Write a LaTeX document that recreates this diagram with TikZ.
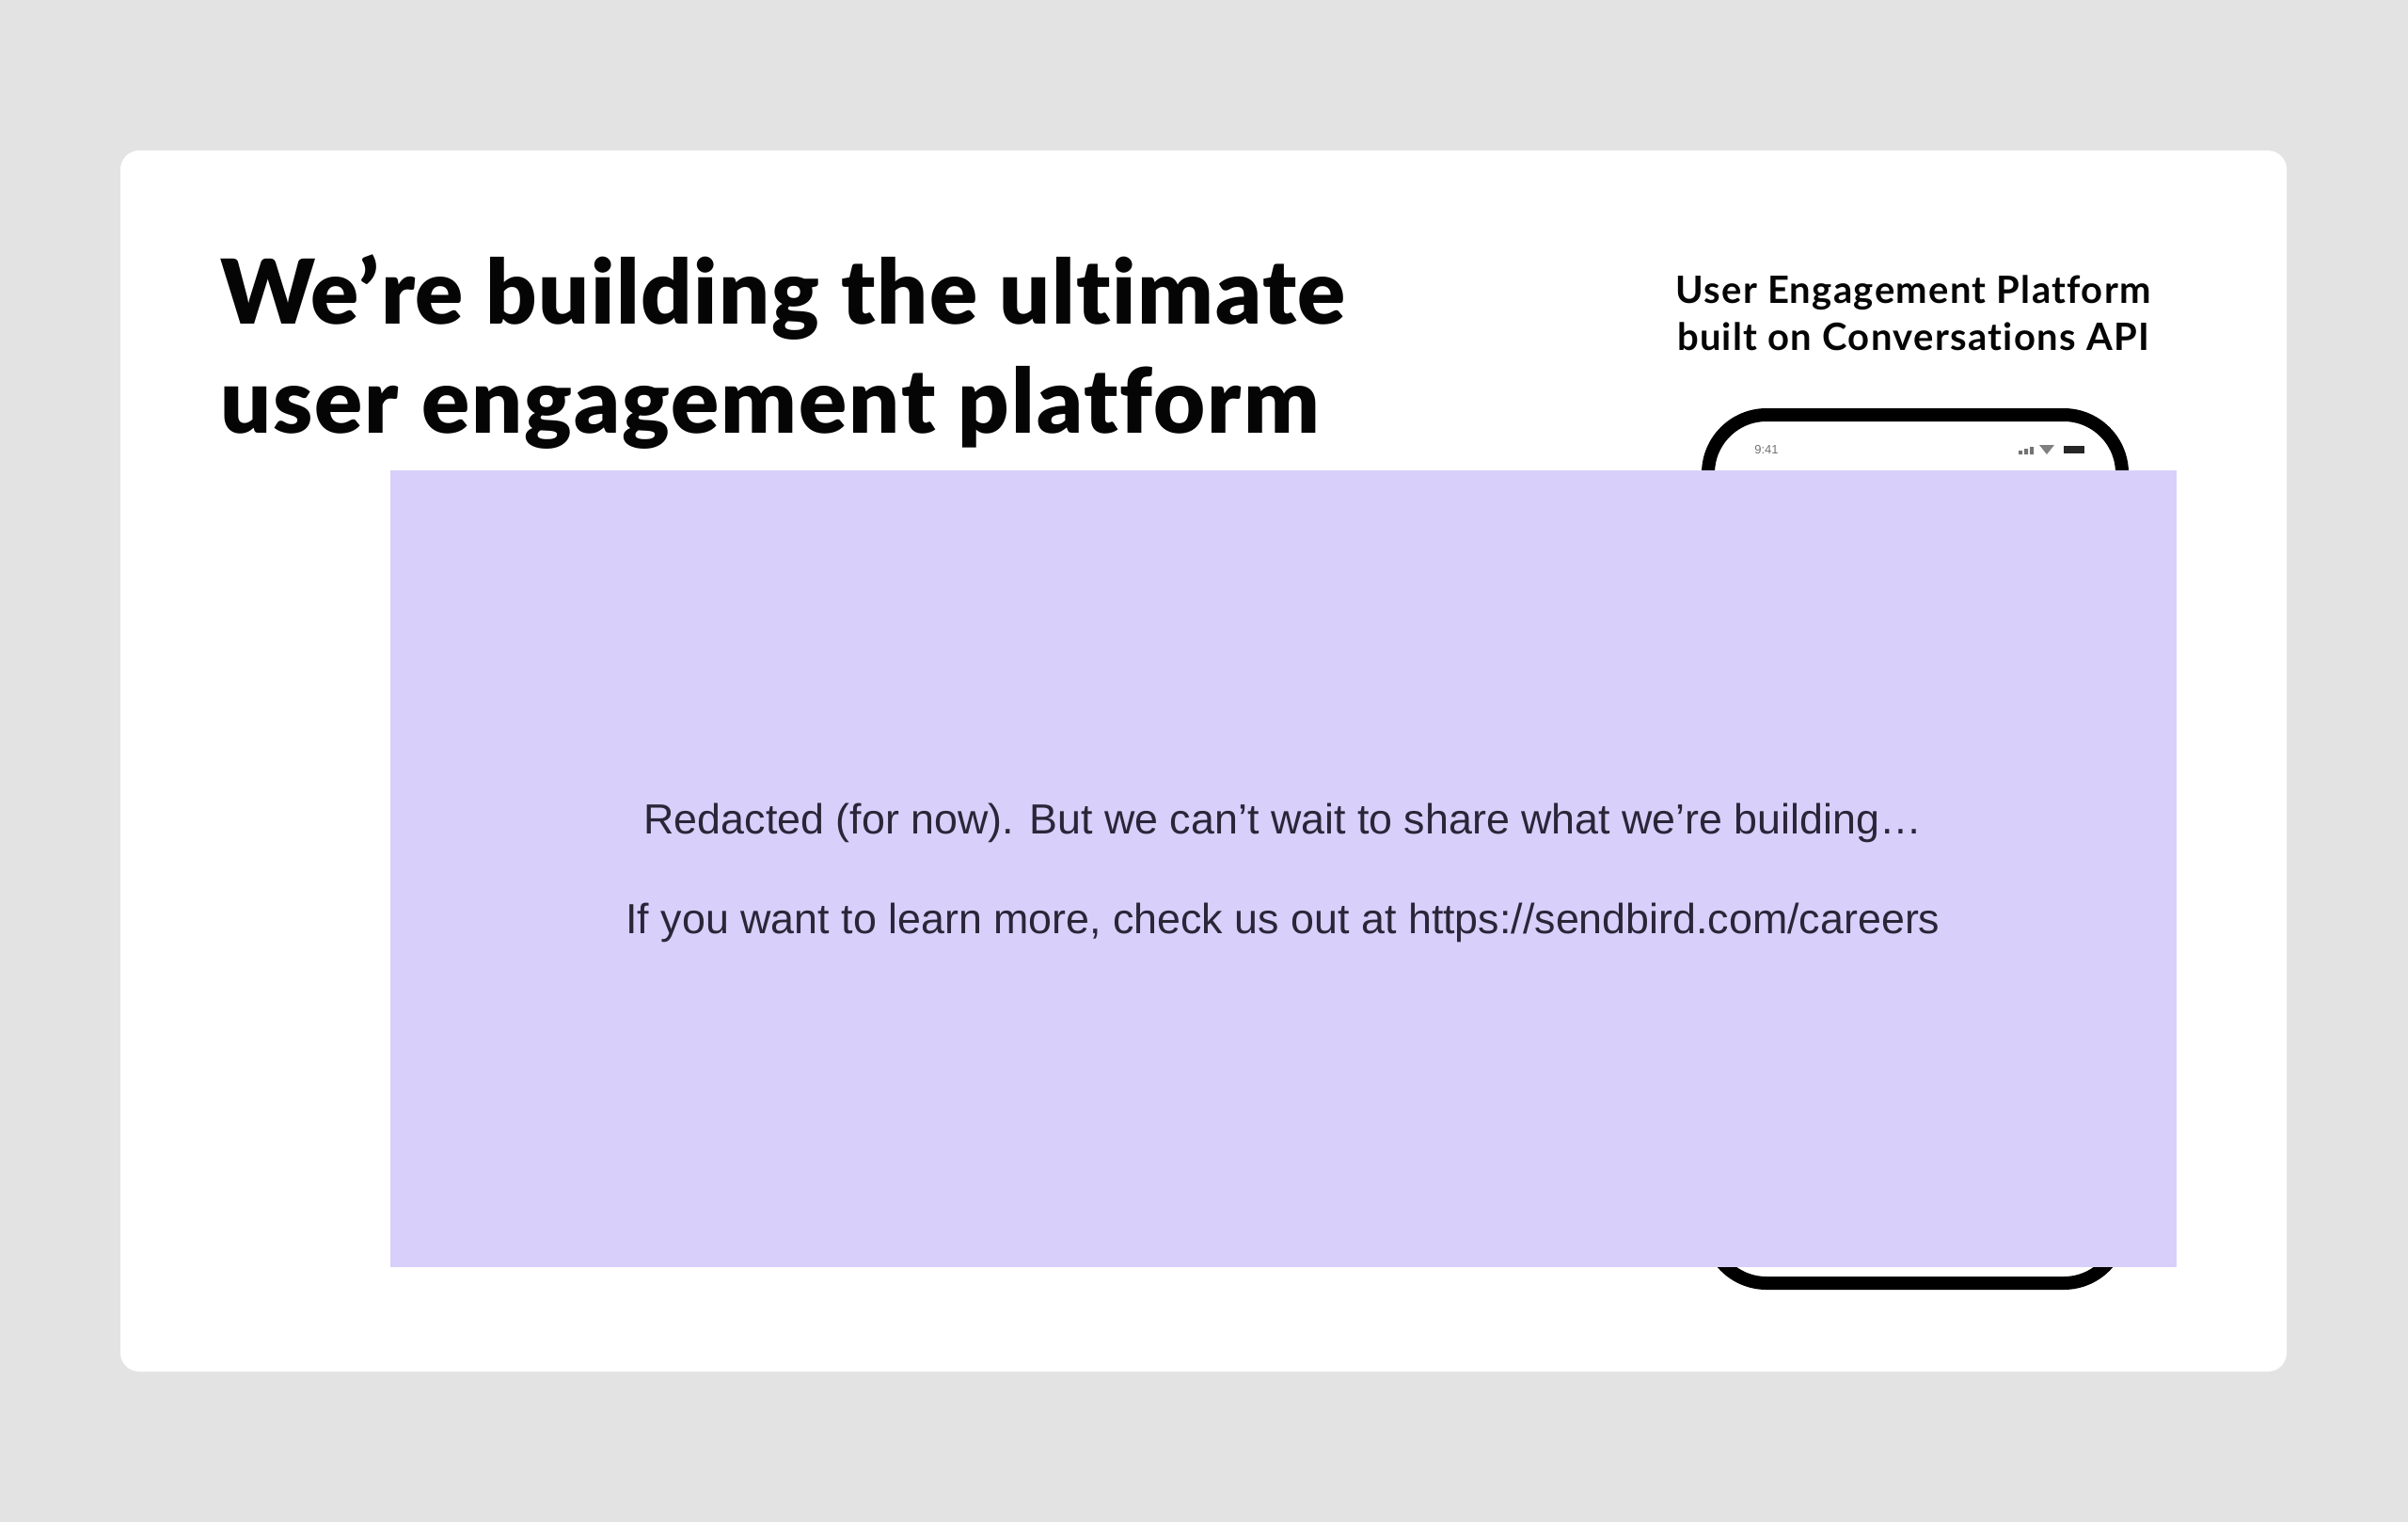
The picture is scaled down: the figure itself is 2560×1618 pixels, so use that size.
\documentclass[tikz,border=0pt]{standalone}
\usepackage{fontspec}
\setmainfont{Liberation Sans}
\newfontfamily\headfont{Lato}[UprightFont=* Black,Ligatures=NoCommon,LetterSpace=1.6]
\newfontfamily\headfontwide{Lato}[UprightFont=* Black,Ligatures=NoCommon,LetterSpace=2.1]
\newfontfamily\subfont{Lato}[UprightFont=* Bold,Ligatures=NoCommon,LetterSpace=3.3]
\definecolor{pagebg}{HTML}{E3E3E3}
\definecolor{veil}{HTML}{D8CFFB}
\definecolor{ink}{HTML}{050505}
\definecolor{veilink}{HTML}{2A2638}
\tikzset{
  px/.style={x=1pt,y=-1pt},
  titletext/.style={anchor=base west,inner sep=0pt,text=ink,font={\headfont\fontsize{95}{95}\selectfont}},
  titletextwide/.style={anchor=base west,inner sep=0pt,text=ink,font={\headfontwide\fontsize{95}{95}\selectfont}},
  subtext/.style={anchor=base,inner sep=0pt,text=ink,font={\subfont\fontsize{40}{40}\selectfont}},
  veiltext/.style={anchor=base,inner sep=0pt,text=veilink,font={\fontsize{44.8}{44.8}\selectfont}},
  statustext/.style={anchor=center,inner sep=0pt,text=black!55,font={\fontsize{13}{13}\selectfont}},
  phoneframe/.style={draw=black,line width=14pt,rounded corners=62pt},
}
\begin{document}
\begin{tikzpicture}[px]
\useasboundingbox (0,0) rectangle (2560,1618);
\fill[pagebg] (0,0) rectangle (2560,1618);
\fill[white,rounded corners=20pt] (128,160) rectangle (2431,1458);
\node[titletext] (t1) at (234,344) {We’re building the ultimate};
\node[titletextwide] (t2) at (234,460) {user engagement platform};
\node[subtext] (s1) at (2034,322) {User Engagement Platform};
\node[subtext] (s2) at (2034,372) {built on Conversations API};
% phone
\draw[phoneframe] (1816,441) rectangle (2256,1364);
\node[statustext] (clock) at (1878,478) {9:41};
\fill[black!55] (2146,479) rectangle (2150,483) (2152,477) rectangle (2156,483) (2158,475) rectangle (2162,483);
\fill[black!50] (2168,473) -- (2184,473) -- (2176,483) -- cycle;
\fill[black!85] (2194,474) rectangle (2216,482);
% redaction
\fill[veil] (415,500) rectangle (2313.5,1347);
\node[veiltext] (r1) at (1364,886) {Redacted (for now). But we can’t wait to share what we’re building…};
\node[veiltext] (r2) at (1364,992) {If you want to learn more, check us out at https://sendbird.com/careers};
\end{tikzpicture}
\end{document}
